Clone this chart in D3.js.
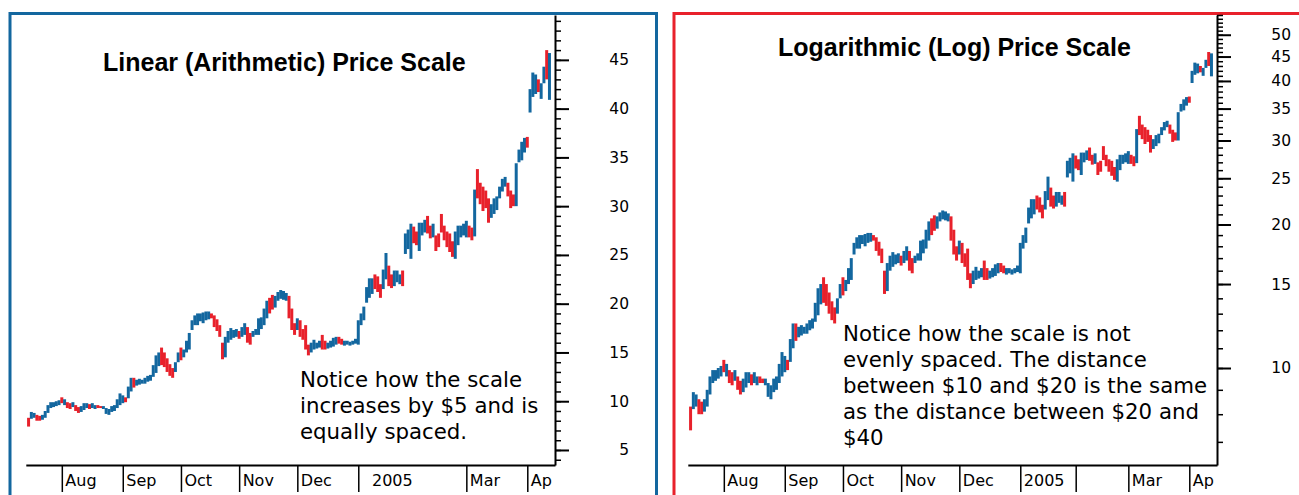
<!DOCTYPE html>
<html>
<head>
<meta charset="utf-8">
<script src="https://cdn.jsdelivr.net/npm/d3@7"></script>
<style>
  body { margin: 0; background: #fff; }
  svg { display: block; background: #fff; }
  .title { font-family: "Liberation Sans", Arial, sans-serif; font-weight: bold; font-size: 25px; fill: #000; }
  .note { font-family: "DejaVu Sans", sans-serif; font-size: 21.3px; fill: #000; }
</style>
</head>
<body>
<div id="chart"></div>
<script>
'use strict';

// one bar per trading day, Jul 15 2004 .. Apr 13 2005
var lows = [
  7.4, 8.2, 8.3, 8.0, 8.0, 8.1, 8.3, 8.8, 9.3, 9.4,
  9.5, 9.6, 9.8, 9.6, 9.3, 9.2, 9.4, 9.0, 8.8, 8.9,
  9.1, 9.3, 9.2, 9.3, 9.2, 9.3, 9.3, 9.2, 8.7, 8.6,
  8.9, 9.0, 9.3, 9.6, 9.8, 9.9, 10.3, 11.0, 11.4, 11.6,
  11.7, 11.8, 11.8, 12.0, 12.1, 12.5, 12.9, 13.6, 13.7, 13.5,
  13.0, 12.6, 12.4, 13.0, 14.0, 14.2, 14.5, 15.0, 15.3, 17.3,
  17.8, 17.8, 18.2, 18.0, 18.3, 18.4, 18.5, 17.6, 17.2, 16.6,
  14.3, 14.5, 16.0, 16.3, 16.5, 16.6, 16.4, 16.6, 16.8, 16.0,
  15.8, 16.6, 16.8, 16.8, 17.4, 17.8, 18.5, 19.0, 19.4, 19.6,
  20.3, 20.5, 20.4, 20.3, 18.5, 17.3, 16.8, 17.3, 16.6, 16.3,
  15.3, 14.7, 15.0, 15.3, 15.4, 15.5, 15.3, 15.3, 15.4, 15.5,
  15.6, 15.8, 15.9, 15.8, 15.7, 15.8, 15.7, 15.8, 15.9, 15.8,
  17.8, 18.3, 20.1, 20.6, 21.0, 21.5, 21.2, 20.6, 21.5, 22.5,
  21.8, 21.6, 21.8, 22.2, 22.0, 21.8, 25.1, 25.6, 24.6, 26.2,
  26.0, 25.4, 27.0, 27.3, 27.2, 26.7, 26.8, 25.4, 25.8, 27.3,
  26.5, 25.8, 25.3, 24.8, 24.6, 26.0, 26.8, 27.0, 26.8, 26.8,
  26.5, 26.9, 30.8, 30.2, 29.5, 29.8, 28.3, 28.8, 29.2, 29.6,
  30.8, 31.5, 32.0, 31.0, 29.8, 30.0, 30.0, 34.5, 34.7, 35.5,
  36.0, 39.6, 41.2, 41.5, 41.7, 41.0, 42.6, 43.0, 40.9
];
var highs = [
  8.3, 8.9, 8.8, 8.6, 8.5, 8.6, 9.0, 9.6, 9.9, 9.9,
  10.0, 10.1, 10.4, 10.2, 9.9, 9.8, 9.9, 9.6, 9.4, 9.5,
  9.8, 9.8, 9.7, 9.8, 9.6, 9.6, 9.5, 9.5, 9.3, 9.2,
  9.5, 9.6, 10.2, 10.8, 10.6, 10.4, 11.5, 12.4, 12.4, 12.2,
  12.3, 12.2, 12.4, 12.6, 12.7, 13.7, 14.7, 15.0, 15.5, 15.0,
  14.4, 13.8, 13.4, 14.0, 15.0, 15.5, 15.3, 16.2, 17.0, 18.3,
  18.8, 19.0, 19.0, 19.1, 19.2, 19.2, 19.0, 18.8, 18.4, 17.8,
  16.0, 16.6, 17.2, 17.5, 17.3, 17.4, 17.2, 17.6, 18.0, 17.6,
  17.0, 17.2, 17.4, 18.5, 18.6, 19.5, 20.3, 20.6, 20.9, 20.8,
  21.2, 21.4, 21.3, 21.1, 20.8, 19.5, 18.0, 18.5, 18.3, 17.4,
  17.8, 15.8, 16.0, 16.3, 16.0, 16.2, 16.8, 16.2, 16.0, 16.2,
  16.5, 16.6, 16.6, 16.4, 16.2, 16.2, 16.1, 16.2, 16.4, 18.3,
  19.0, 19.7, 21.7, 22.6, 22.6, 23.0, 22.8, 22.0, 23.5, 25.2,
  23.9, 23.0, 23.4, 23.4, 23.0, 23.4, 27.2, 27.6, 28.2, 27.9,
  27.4, 28.3, 28.3, 28.6, 29.0, 28.0, 28.2, 27.0, 27.2, 29.2,
  28.0, 27.4, 27.2, 26.4, 27.4, 28.0, 28.0, 28.2, 28.5, 28.0,
  27.8, 31.7, 33.8, 32.4, 32.0, 31.6, 30.8, 30.2, 30.8, 31.0,
  32.0, 32.8, 33.0, 32.4, 31.6, 31.2, 34.4, 35.8, 36.6, 37.0,
  37.1, 42.0, 43.7, 43.5, 43.0, 42.6, 44.3, 46.0, 45.7
];
// u = up day (blue), d = down day (red)
var moves =
  'duudduuuuu' + 'uududduddu' + 'uuduudduuu' + 'uuuuuduudu' + 'uuuuuuuudd' +
  'ddduuduuuu' + 'uuuuuudddd' + 'duuuuuduud' + 'duuuuuuddu' + 'uuuudddudd' +
  'dduuuudduu' + 'uudduuuuuu' + 'uuuuuddduu' + 'dduuuduuud' + 'duuudduddd' +
  'dddduuuuud' + 'duddddduuu' + 'uuuddduuuu' + 'duuuduudu';

// first trading day of each month (bar index)
var monthIdxLinear = [12, 34, 55, 76, 97, 119, 158, 180];
var monthLabelsLinear = ['Aug', 'Sep', 'Oct', 'Nov', 'Dec', '  2005', 'Mar', 'Ap'];
var monthIdxLog = [12, 34, 55, 76, 97, 119, 139, 158, 180];
var monthLabelsLog = ['Aug', 'Sep', 'Oct', 'Nov', 'Dec', '2005', '', 'Mar', 'Ap'];

var majorLinear = [5, 10, 15, 20, 25, 30, 35, 40, 45];
var minorLinear = d3.range(4, 50);
var majorLog = [10, 15, 20, 25, 30, 35, 40, 45, 50];
var minorLog = d3.range(7, 56);

var noteLinear = ['Notice how the scale', 'increases by $5 and is', 'equally spaced.'];
var noteLog = ['Notice how the scale is not', 'evenly spaced. The distance',
  'between $10 and $20 is the same', 'as the distance between $20 and', '$40'];

var BLUE = '#13679f';
var RED = '#e8212b';

var svg = d3.select('#chart').append('svg')
  .attr('width', 1299)
  .attr('height', 495);

var bars = lows.map(function(lo, i) {
  return { i: i, low: lo, high: highs[i], up: moves.charAt(i) === 'u' };
});

var plot = { left: 25.8, right: 555, top: 15, bottom: 465 };

function drawPanel(cfg) {

  svg.append('rect')
    .attr('x', cfg.border[0])
    .attr('y', 13.5)
    .attr('width', cfg.border[1])
    .attr('height', 600)
    .attr('fill', 'none')
    .attr('stroke', cfg.borderColor)
    .attr('stroke-width', 3);

  var g = svg.append('g')
    .attr('transform', 'translate(' + cfg.dx + ',0)');

  var x = d3.scaleLinear().domain([-1, 190]).range([plot.left, plot.right]);
  var y = cfg.y;

  g.selectAll('.bar')
    .data(bars)
    .enter()
    .append('line')
    .attr('class', 'bar')
    .attr('x1', function(d) { return x(d.i); })
    .attr('x2', function(d) { return x(d.i); })
    .attr('y1', function(d) { return y(d.low); })
    .attr('y2', function(d) { return y(d.high); })
    .attr('stroke', function(d) { return d.up ? BLUE : RED; })
    .attr('stroke-width', 3);

  // minor price ticks
  g.append('g')
    .attr('transform', 'translate(' + plot.right + ',0)')
    .call(d3.axisRight(y).tickValues(cfg.minor).tickSize(6).tickSizeOuter(0).tickFormat(''))
    .call(function(a) {
      a.select('.domain').remove();
      a.selectAll('line').attr('stroke', '#000').attr('stroke-width', 1.5);
    });

  var yAxis = g.append('g')
    .attr('transform', 'translate(' + plot.right + ',0)')
    .call(d3.axisRight(y).tickValues(cfg.major).tickSize(14).tickSizeOuter(0).tickFormat(d3.format('d')));
  yAxis.select('.domain').attr('stroke', '#000').attr('stroke-width', 2);
  yAxis.selectAll('line').attr('stroke', '#000').attr('stroke-width', 2);
  yAxis.selectAll('text')
    .attr('x', 74)
    .attr('text-anchor', 'end')
    .attr('font-family', '"DejaVu Sans", sans-serif')
    .attr('font-size', 15.5)
    .attr('fill', '#000');

  var labels = cfg.monthLabels;
  var xAxis = g.append('g')
    .attr('transform', 'translate(0,' + plot.bottom + ')')
    .call(d3.axisBottom(x).tickValues(cfg.monthIdx).tickSize(27).tickSizeOuter(0)
      .tickFormat(function(d, k) { return labels[k]; }));
  xAxis.select('.domain').attr('stroke', '#000').attr('stroke-width', 2);
  xAxis.selectAll('line').attr('stroke', '#000').attr('stroke-width', 1.5);
  xAxis.selectAll('text')
    .attr('x', 3)
    .attr('y', 21)
    .attr('dy', 0)
    .attr('text-anchor', 'start')
    .style('white-space', 'pre')
    .attr('font-family', '"DejaVu Sans", sans-serif')
    .attr('font-size', 16)
    .attr('fill', '#000');

  svg.append('text')
    .attr('class', 'title')
    .attr('x', cfg.title[1])
    .attr('y', cfg.title[2])
    .text(cfg.title[0]);

  svg.append('g')
    .selectAll('text')
    .data(cfg.note)
    .enter()
    .append('text')
    .attr('class', 'note')
    .attr('x', cfg.notePos[0])
    .attr('y', function(d, k) { return cfg.notePos[1] + k * 26; })
    .text(function(d) { return d; });
}

drawPanel({
  dx: 0,
  border: [10, 646.5],
  borderColor: BLUE,
  y: d3.scaleLinear().domain([3.46, 49.6]).range([plot.bottom, plot.top]),
  major: majorLinear,
  minor: minorLinear,
  monthIdx: monthIdxLinear,
  monthLabels: monthLabelsLinear,
  title: ['Linear (Arithmetic) Price Scale', 103, 71],
  note: noteLinear,
  notePos: [300, 387]
});

drawPanel({
  dx: 662,
  border: [674, 700],
  borderColor: RED,
  y: d3.scaleLog().domain([6.26, 55]).range([plot.bottom, plot.top]),
  major: majorLog,
  minor: minorLog,
  monthIdx: monthIdxLog,
  monthLabels: monthLabelsLog,
  title: ['Logarithmic (Log) Price Scale', 778, 56],
  note: noteLog,
  notePos: [843, 341]
});
</script>
</body>
</html>
